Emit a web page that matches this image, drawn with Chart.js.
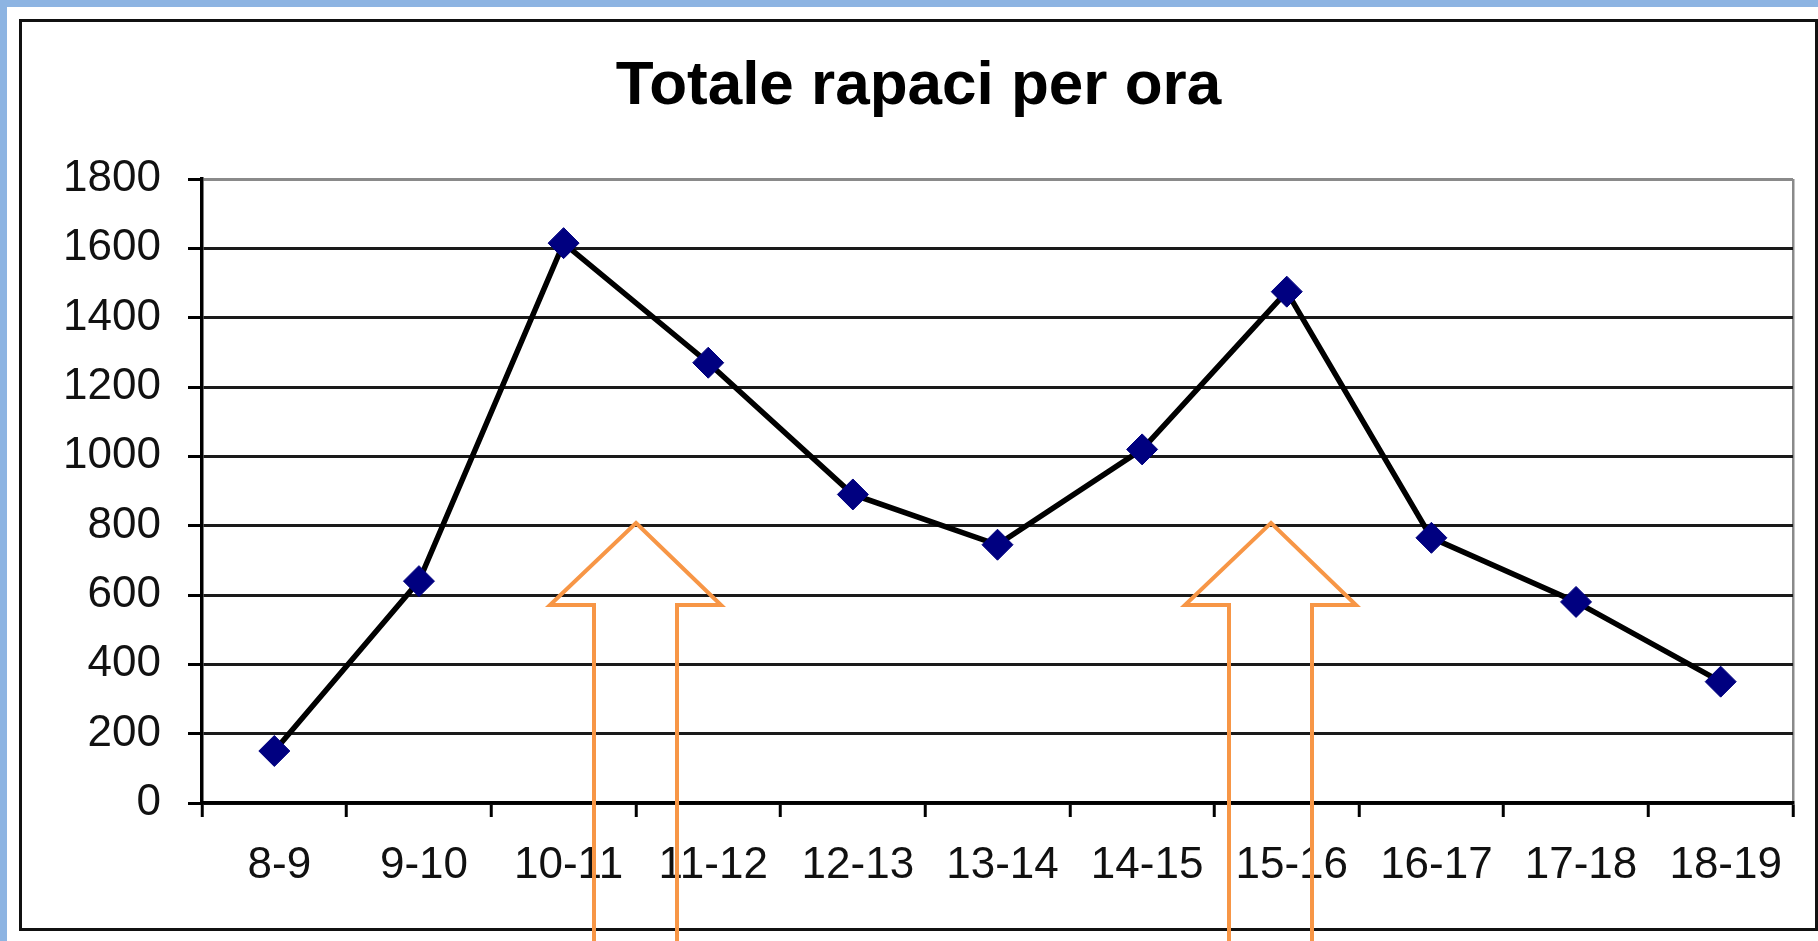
<!DOCTYPE html>
<html>
<head>
<meta charset="utf-8">
<title>Totale rapaci per ora</title>
<script src="https://cdn.jsdelivr.net/npm/chart.js@4.4.1/dist/chart.umd.min.js"></script>
<style>
  html, body { margin: 0; padding: 0; }
  body {
    width: 1818px;
    height: 941px;
    background: #8db4e2;
    position: relative;
    overflow: hidden;
    font-family: "Liberation Sans", Arial, sans-serif;
  }
  .sheet {
    position: absolute;
    left: 7px; top: 7px; right: 0; bottom: 0;
    background: #fff;
  }
  .frame {
    position: absolute;
    left: 19px; top: 19px;
    width: 1793px; height: 906px;
    border: 3px solid #111;
    background: #fff;
  }
  #chartRapaci { display: block; }
  #arrows { position: absolute; left: 0; top: 0; pointer-events: none; }
</style>
</head>
<body>
<div class="sheet"></div>
<div class="frame">
  <canvas id="chartRapaci" width="1793" height="906"></canvas>
</div>
<svg id="arrows" width="1818" height="941" viewBox="0 0 1818 941">
  <polygon points="636,523 721,605 677,605 677,960 594,960 594,605 550,605"
    fill="none" stroke="#f79646" stroke-width="4" stroke-linejoin="miter" />
  <polygon points="1271,523 1356,605 1312,605 1312,960 1229,960 1229,605 1185,605"
    fill="none" stroke="#f79646" stroke-width="4" stroke-linejoin="miter" />
</svg>

<script>
const hours = [
  "8-9", "9-10", "10-11", "11-12", "12-13", "13-14",
  "14-15", "15-16", "16-17", "17-18", "18-19",
];
const raptors = [150, 640, 1615, 1270, 890, 745, 1020, 1475, 765, 580, 350];
const yMin = 0;
const yMax = 1800;
const yStep = 200;

const labelFont = { family: "'Liberation Sans', Arial, sans-serif", size: 44 };
const plotBorder = "#8a8a8a";

new Chart(document.getElementById("chartRapaci"), {
  type: "line",
  data: {
    labels: hours,
    datasets: [
      {
        label: "Totale rapaci",
        data: raptors,
        borderColor: "#000",
        borderWidth: 5.5,
        tension: 0,
        pointStyle: "rectRot",
        pointRadius: 15.5,
        pointHoverRadius: 15.5,
        pointBackgroundColor: "#000080",
        pointBorderColor: "#000080",
        pointBorderWidth: 1,
      },
    ],
  },
  options: {
    responsive: false,
    animation: false,
    devicePixelRatio: 1,
    // equal side padding keeps the title centred on the frame
    layout: { padding: { left: 22, right: 22, top: 0, bottom: 0 } },
    plugins: {
      legend: { display: false },
      tooltip: { enabled: false },
      title: {
        display: true,
        text: "Totale rapaci per ora",
        color: "#000",
        font: { family: "'Liberation Sans', Arial, sans-serif", size: 62, weight: "bold" },
        padding: { top: 28, bottom: 54.6 },
      },
    },
    scales: {
      x: {
        offset: true,
        afterFit: (scale) => { scale.height = 125; },
        grid: {
          offset: true,
          drawOnChartArea: true,
          color: (c) => (c.type === "tick" ? "rgba(0,0,0,0)" : plotBorder),
          lineWidth: 2.5,
          tickLength: 14,
          tickColor: "#000",
          tickWidth: 3,
        },
        border: { display: true, color: "#000", width: 3.5 },
        ticks: {
          color: "#111",
          font: labelFont,
          padding: 22,
          labelOffset: 5,
          maxRotation: 0,
          autoSkip: false,
        },
      },
      y: {
        min: yMin,
        max: yMax,
        afterFit: (scale) => { scale.width = 158; },
        grid: {
          color: (c) => (c.tick && c.tick.value === yMax ? plotBorder : "#1a1a1a"),
          lineWidth: 3,
          tickLength: 14,
          tickColor: "#000",
          tickWidth: 3,
        },
        border: { display: true, color: "#000", width: 3.5 },
        ticks: {
          stepSize: yStep,
          color: "#111",
          font: labelFont,
          padding: 27,
          callback: (value) => String(value),
        },
      },
    },
  },
});
</script>
</body>
</html>
